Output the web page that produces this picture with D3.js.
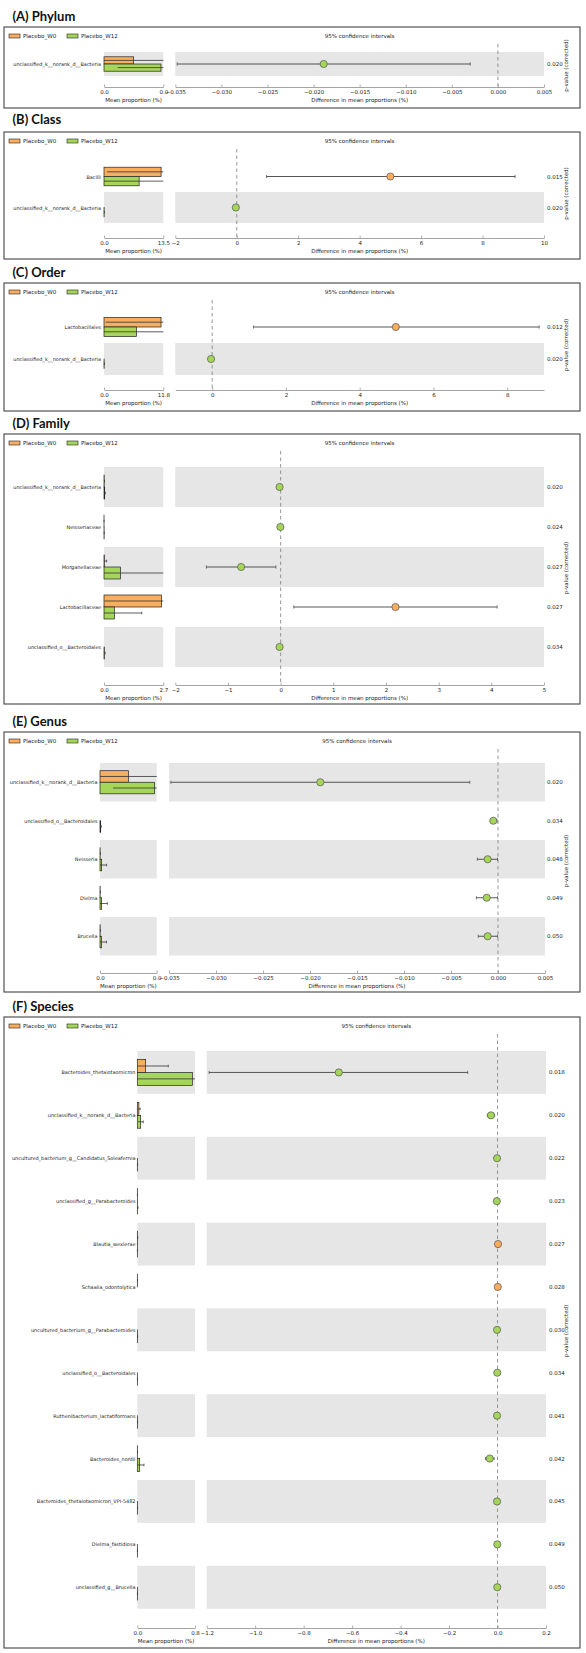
<!DOCTYPE html>
<html><head><meta charset="utf-8">
<script src="https://cdn.jsdelivr.net/npm/d3@7"></script>
<style>body{margin:0;background:#fff}</style>
</head><body>
<svg id="c" width="586" height="1653"></svg>
<script>
// ---------------- DATA ----------------
const groupNames = ["Placebo_W0", "Placebo_W12"];

// (A) Phylum
const phylumTaxa = ["unclassified_k__norank_d__Bacteria"];
const phylumW0 = [0.0205], phylumW0Sd = [0.025];
const phylumW12 = [0.0394], phylumW12Sd = [0.03];
const phylumDiff = [-0.0189], phylumCiLow = [-0.0348], phylumCiHigh = [-0.0030];
const phylumP = ["0.020"];
const phylumMeanTicks = [0, 0.041];
const phylumDiffTicks = [-0.035, -0.030, -0.025, -0.020, -0.015, -0.010, -0.005, 0.000, 0.005];

// (B) Class
const classTaxa = ["Bacilli", "unclassified_k__norank_d__Bacteria"];
const classW0 = [13.0, 0.0], classW0Sd = [12.3, 0.0];
const classW12 = [8.0, 0.03], classW12Sd = [9.5, 0.05];
const classDiff = [5.0, -0.03], classCiLow = [0.97, -0.06], classCiHigh = [9.06, -0.005];
const classP = ["0.015", "0.020"];
const classMeanTicks = [0, 13.5];
const classDiffTicks = [-2, 0, 2, 4, 6, 8, 10];

// (C) Order
const orderTaxa = ["Lactobacillales", "unclassified_k__norank_d__Bacteria"];
const orderW0 = [11.35, 0.0], orderW0Sd = [11.0, 0.0];
const orderW12 = [6.45, 0.03], orderW12Sd = [8.0, 0.05];
const orderDiff = [4.98, -0.03], orderCiLow = [1.12, -0.06], orderCiHigh = [8.87, -0.005];
const orderP = ["0.012", "0.020"];
const orderMeanTicks = [0, 11.8];
const orderDiffTicks = [0, 2, 4, 6, 8];
const orderDiffDomain = [-1, 9];

// (D) Family
const familyTaxa = ["unclassified_k__norank_d__Bacteria", "Neisseriaceae", "Morganellaceae", "Lactobacillaceae", "unclassified_o__Bacteroidales"];
const familyW0 = [0.01, 0.001, 0.02, 2.62, 0.0], familyW0Sd = [0.015, 0.002, 0.1, 2.6, 0.0];
const familyW12 = [0.03, 0.006, 0.75, 0.47, 0.02], familyW12Sd = [0.03, 0.006, 2.4, 1.25, 0.03];
const familyDiff = [-0.02, -0.005, -0.75, 2.18, -0.02];
const familyCiLow = [-0.04, -0.01, -1.41, 0.25, -0.035];
const familyCiHigh = [-0.005, -0.001, -0.09, 4.11, -0.005];
const familyP = ["0.020", "0.024", "0.027", "0.027", "0.034"];
const familyMeanTicks = [0, 2.7];
const familyDiffTicks = [-2, -1, 0, 1, 2, 3, 4, 5];

// (E) Genus
const genusTaxa = ["unclassified_k__norank_d__Bacteria", "unclassified_o__Bacteroidales", "Neisseria", "Dielma", "Brucella"];
const genusW0 = [0.0205, 0.0, 0.0001, 0.0001, 0.0001], genusW0Sd = [0.025, 0.0, 0.0002, 0.0002, 0.0002];
const genusW12 = [0.0395, 0.0005, 0.0012, 0.0012, 0.0011], genusW12Sd = [0.03, 0.0004, 0.0036, 0.0042, 0.0036];
const genusDiff = [-0.0189, -0.0005, -0.0011, -0.0012, -0.0011];
const genusCiLow = [-0.0348, -0.0008, -0.0022, -0.0023, -0.0021];
const genusCiHigh = [-0.0030, -0.0001, -0.00005, -0.00005, -0.00005];
const genusP = ["0.020", "0.034", "0.048", "0.049", "0.050"];
const genusMeanTicks = [0, 0.041];
const genusDiffTicks = [-0.035, -0.030, -0.025, -0.020, -0.015, -0.010, -0.005, 0.000, 0.005];

// (F) Species
const speciesTaxa = ["Bacteroides_thetaiotaomicron", "unclassified_k__norank_d__Bacteria",
  "uncultured_bacterium_g__Candidatus_Soleaferrea", "unclassified_g__Parabacteroides",
  "Blautia_wexlerae", "Schaalia_odontolytica", "uncultured_bacterium_g__Parabacteroides",
  "unclassified_o__Bacteroidales", "Ruthenibacterium_lactatiformans", "Bacteroides_nordii",
  "Bacteroides_thetaiotaomicron_VPI-5482", "Dielma_fastidiosa", "unclassified_g__Brucella"];
const speciesW0 = [0.116, 0.022, 0.0, 0.001, 0.003, 0.001, 0.0, 0.0, 0.0, 0.001, 0.0, 0.0, 0.0];
const speciesW0Sd = [0.314, 0.018, 0.0, 0.002, 0.004, 0.002, 0.0, 0.0, 0.0, 0.002, 0.0, 0.0, 0.0];
const speciesW12 = [0.763, 0.047, 0.002, 0.004, 0.0005, 0.0, 0.002, 0.001, 0.002, 0.033, 0.002, 0.001, 0.001];
const speciesW12Sd = [0.8, 0.036, 0.002, 0.006, 0.001, 0.0, 0.002, 0.002, 0.002, 0.06, 0.002, 0.001, 0.001];
const speciesDiff = [-0.655, -0.027, -0.002, -0.003, 0.002, 0.001, -0.002, -0.001, -0.002, -0.032, -0.002, -0.001, -0.001];
const speciesCiLow = [-1.19, -0.042, -0.004, -0.006, 0.0005, 0.0002, -0.004, -0.002, -0.004, -0.05, -0.004, -0.002, -0.002];
const speciesCiHigh = [-0.123, -0.012, -0.0005, -0.0005, 0.004, 0.002, -0.0005, -0.0002, -0.0005, -0.014, -0.0005, -0.0002, -0.0002];
const speciesP = ["0.018", "0.020", "0.022", "0.023", "0.027", "0.028", "0.030", "0.034", "0.041", "0.042", "0.045", "0.049", "0.050"];
const speciesMeanTicks = [0, 0.8];
const speciesDiffTicks = [-1.2, -1.0, -0.8, -0.6, -0.4, -0.2, 0.0, 0.2];

// ---------------- PANELS ----------------
const panels = [
  { title: "(A) Phylum", taxa: phylumTaxa, w0: phylumW0, w0sd: phylumW0Sd, w12: phylumW12, w12sd: phylumW12Sd,
    diff: phylumDiff, lo: phylumCiLow, hi: phylumCiHigh, p: phylumP, meanTicks: phylumMeanTicks,
    diffTicks: phylumDiffTicks, diffDomain: [phylumDiffTicks[0], phylumDiffTicks[phylumDiffTicks.length-1]], diffFmt: ".3f",
    L: { titleY: 16, boxTop: 27, rowTop: 52, rowH: 24, axisY: 87, boxBottom: 108, labelRight: 101, barX0: 104, barX1: 163.3, diffX0: 175.3, diffX1: 544, pX: 547 } },
  { title: "(B) Class", taxa: classTaxa, w0: classW0, w0sd: classW0Sd, w12: classW12, w12sd: classW12Sd,
    diff: classDiff, lo: classCiLow, hi: classCiHigh, p: classP, meanTicks: classMeanTicks,
    diffTicks: classDiffTicks, diffDomain: [classDiffTicks[0], classDiffTicks[classDiffTicks.length-1]], diffFmt: "d",
    L: { titleY: 119, boxTop: 132, rowTop: 161, rowH: 31, axisY: 238, boxBottom: 259, labelRight: 101, barX0: 104, barX1: 163.3, diffX0: 175.3, diffX1: 544, pX: 547 } },
  { title: "(C) Order", taxa: orderTaxa, w0: orderW0, w0sd: orderW0Sd, w12: orderW12, w12sd: orderW12Sd,
    diff: orderDiff, lo: orderCiLow, hi: orderCiHigh, p: orderP, meanTicks: orderMeanTicks,
    diffTicks: orderDiffTicks, diffDomain: orderDiffDomain, diffFmt: "d",
    L: { titleY: 272, boxTop: 283, rowTop: 311, rowH: 32, axisY: 390, boxBottom: 411, labelRight: 101, barX0: 104, barX1: 163.3, diffX0: 175.3, diffX1: 544, pX: 547 } },
  { title: "(D) Family", taxa: familyTaxa, w0: familyW0, w0sd: familyW0Sd, w12: familyW12, w12sd: familyW12Sd,
    diff: familyDiff, lo: familyCiLow, hi: familyCiHigh, p: familyP, meanTicks: familyMeanTicks,
    diffTicks: familyDiffTicks, diffDomain: [familyDiffTicks[0], familyDiffTicks[familyDiffTicks.length-1]], diffFmt: "d",
    L: { titleY: 423, boxTop: 434, rowTop: 467, rowH: 40, axisY: 685, boxBottom: 704, labelRight: 101, barX0: 104, barX1: 163.3, diffX0: 175.3, diffX1: 544, pX: 547 } },
  { title: "(E) Genus", taxa: genusTaxa, w0: genusW0, w0sd: genusW0Sd, w12: genusW12, w12sd: genusW12Sd,
    diff: genusDiff, lo: genusCiLow, hi: genusCiHigh, p: genusP, meanTicks: genusMeanTicks,
    diffTicks: genusDiffTicks, diffDomain: [genusDiffTicks[0], genusDiffTicks[genusDiffTicks.length-1]], diffFmt: ".3f",
    L: { titleY: 721, boxTop: 732, rowTop: 763, rowH: 38.5, axisY: 973, boxBottom: 992, labelRight: 97.5, barX0: 100, barX1: 156.7, diffX0: 169, diffX1: 545, pX: 547 } },
  { title: "(F) Species", taxa: speciesTaxa, w0: speciesW0, w0sd: speciesW0Sd, w12: speciesW12, w12sd: speciesW12Sd,
    diff: speciesDiff, lo: speciesCiLow, hi: speciesCiHigh, p: speciesP, meanTicks: speciesMeanTicks,
    diffTicks: speciesDiffTicks, diffDomain: [speciesDiffTicks[0], speciesDiffTicks[speciesDiffTicks.length-1]], diffFmt: ".1f",
    L: { titleY: 1006, boxTop: 1017, rowTop: 1051, rowH: 42.9, axisY: 1628, boxBottom: 1648, labelRight: 135.5, barX0: 137.3, barX1: 195, diffX0: 206.7, diffX1: 546, pX: 549 } }
];

// ---------------- DRAW ----------------
const svg = d3.select("#c");
const ORANGE = "#f8ad5f", GREEN = "#a5d65a", BAND = "#e6e6e6";
const FONT = "'DejaVu Sans', sans-serif";
const FS = 5.5;
const FS_LABEL = 4.95;
const TXT = "#222";
const defs = svg.append("defs");

panels.forEach((d, pi) => {
  const L = d.L;
  const n = d.taxa.length;
  const g = svg.append("g");
  const axesTop = L.boxTop + 17;

  const yBand = d3.scaleBand().domain(d3.range(n)).range([L.rowTop, L.rowTop + n * L.rowH]);
  const meanMax = d.meanTicks[d.meanTicks.length - 1];
  const xm = d3.scaleLinear().domain([0, meanMax]).range([L.barX0, L.barX1]);
  const xd = d3.scaleLinear().domain(d.diffDomain).range([L.diffX0, L.diffX1]);

  // title
  g.append("text").attr("x", 12.5).attr("y", L.titleY + 4.6)
    .attr("font-family", "Lato, 'Open Sans', sans-serif").attr("font-weight", 700)
    .attr("font-size", 13).attr("fill", "#111").text(d.title);

  // box
  g.append("rect").attr("x", 4).attr("y", L.boxTop).attr("width", 576)
    .attr("height", L.boxBottom - L.boxTop).attr("fill", "none")
    .attr("stroke", "#444").attr("stroke-width", 1.1);

  // legend
  const ly = L.boxTop + 9;
  const legX = [9, 67];
  groupNames.forEach((nm, i) => {
    g.append("rect").attr("x", legX[i]).attr("y", ly - 2).attr("width", 11).attr("height", 4)
      .attr("fill", i === 0 ? ORANGE : GREEN).attr("stroke", "#222").attr("stroke-width", 0.6);
    g.append("text").attr("x", legX[i] + 14).attr("y", ly).attr("dominant-baseline", "central")
      .attr("font-family", FONT).attr("font-size", FS).attr("fill", TXT).text(nm);
  });
  g.append("text").attr("x", (L.diffX0 + L.diffX1) / 2).attr("y", ly).attr("text-anchor", "middle")
    .attr("dominant-baseline", "central").attr("font-family", FONT).attr("font-size", FS)
    .attr("fill", TXT).text("95% confidence intervals");

  // bands (gray from bottom, alternating)
  d.taxa.forEach((t, i) => {
    if ((n - 1 - i) % 2 === 0) {
      g.append("rect").attr("x", L.barX0).attr("y", yBand(i)).attr("width", L.barX1 - L.barX0)
        .attr("height", yBand.bandwidth()).attr("fill", BAND);
      g.append("rect").attr("x", L.diffX0).attr("y", yBand(i)).attr("width", L.diffX1 - L.diffX0)
        .attr("height", yBand.bandwidth()).attr("fill", BAND);
    }
  });

  // dashed zero line
  g.append("line").attr("x1", xd(0)).attr("x2", xd(0)).attr("y1", axesTop).attr("y2", L.axisY)
    .attr("stroke", "#8a8a8a").attr("stroke-width", 0.9).attr("stroke-dasharray", "3.5,3");

  // bars
  const clipId = "clip" + pi;
  defs.append("clipPath").attr("id", clipId).append("rect")
    .attr("x", L.barX0 - 1).attr("y", L.boxTop).attr("width", L.barX1 - L.barX0 + 1)
    .attr("height", L.boxBottom - L.boxTop);
  const bg = g.append("g").attr("clip-path", "url(#" + clipId + ")");
  const bh = yBand.bandwidth() * 0.3;
  d.taxa.forEach((t, i) => {
    const cy = yBand(i) + yBand.bandwidth() / 2;
    const series = [[d.w0[i], d.w0sd[i], ORANGE, cy - bh], [d.w12[i], d.w12sd[i], GREEN, cy]];
    series.forEach(([m, sd, col, y0]) => {
      bg.append("rect").attr("x", xm(0)).attr("y", y0).attr("width", Math.max(0, xm(m) - xm(0)))
        .attr("height", bh).attr("fill", col).attr("stroke", "#222").attr("stroke-width", 0.7);
      if (sd > 0) {
        const yc = y0 + bh / 2;
        const a = xm(Math.max(0, m - sd)), b = xm(m + sd);
        bg.append("line").attr("x1", a).attr("x2", b).attr("y1", yc).attr("y2", yc)
          .attr("stroke", "#333").attr("stroke-width", 0.8);
        bg.append("line").attr("x1", b).attr("x2", b).attr("y1", yc - 1.3).attr("y2", yc + 1.3)
          .attr("stroke", "#333").attr("stroke-width", 0.7);
      }
    });
  });

  // CI + points
  d.taxa.forEach((t, i) => {
    const cy = yBand(i) + yBand.bandwidth() / 2;
    const a = xd(d.lo[i]), b = xd(d.hi[i]);
    g.append("line").attr("x1", a).attr("x2", b).attr("y1", cy).attr("y2", cy)
      .attr("stroke", "#444").attr("stroke-width", 0.9);
    [a, b].forEach(x => g.append("line").attr("x1", x).attr("x2", x).attr("y1", cy - 1.6).attr("y2", cy + 1.6)
      .attr("stroke", "#444").attr("stroke-width", 0.7));
    g.append("circle").attr("cx", xd(d.diff[i])).attr("cy", cy).attr("r", 3.6)
      .attr("fill", d.diff[i] > 0 ? ORANGE : GREEN).attr("stroke", "#555").attr("stroke-width", 0.7);
    // labels
    g.append("text").attr("x", L.labelRight).attr("y", cy).attr("text-anchor", "end")
      .attr("dominant-baseline", "central").attr("font-family", FONT).attr("font-size", FS_LABEL)
      .attr("fill", TXT).text(t);
    g.append("text").attr("x", L.pX).attr("y", cy).attr("dominant-baseline", "central")
      .attr("font-family", FONT).attr("font-size", FS).attr("fill", TXT).text(d.p[i]);
  });

  // axes
  const styleAxis = sel => {
    sel.select(".domain").attr("stroke", "#9a9a9a").attr("stroke-width", 0.9);
    sel.selectAll(".tick line").attr("stroke", "#9a9a9a").attr("stroke-width", 0.8);
    sel.selectAll(".tick text").attr("font-family", FONT).attr("font-size", FS).attr("fill", TXT);
  };
  const meanAxis = d3.axisBottom(xm).tickValues(d.meanTicks).tickFormat(d3.format(".1f"))
    .tickSizeInner(-2.5).tickSizeOuter(0).tickPadding(3.5);
  g.append("g").attr("transform", `translate(0,${L.axisY})`).call(meanAxis).call(styleAxis);
  const diffAxis = d3.axisBottom(xd).tickValues(d.diffTicks).tickFormat(d3.format(d.diffFmt))
    .tickSizeInner(-2.5).tickSizeOuter(0).tickPadding(3.5);
  g.append("g").attr("transform", `translate(0,${L.axisY})`).call(diffAxis).call(styleAxis);

  g.append("text").attr("x", (L.barX0 + L.barX1) / 2).attr("y", L.axisY + 13).attr("text-anchor", "middle")
    .attr("dominant-baseline", "central").attr("font-family", FONT).attr("font-size", FS)
    .attr("fill", TXT).text("Mean proportion (%)");
  g.append("text").attr("x", (L.diffX0 + L.diffX1) / 2).attr("y", L.axisY + 13).attr("text-anchor", "middle")
    .attr("dominant-baseline", "central").attr("font-family", FONT).attr("font-size", FS)
    .attr("fill", TXT).text("Difference in mean proportions (%)");

  const pcy = (axesTop + L.axisY) / 2;
  g.append("text").attr("transform", `translate(566,${pcy}) rotate(-90)`).attr("text-anchor", "middle")
    .attr("dominant-baseline", "central").attr("font-family", FONT).attr("font-size", FS)
    .attr("fill", TXT).text("p-value (corrected)");
});
</script>
</body></html>
